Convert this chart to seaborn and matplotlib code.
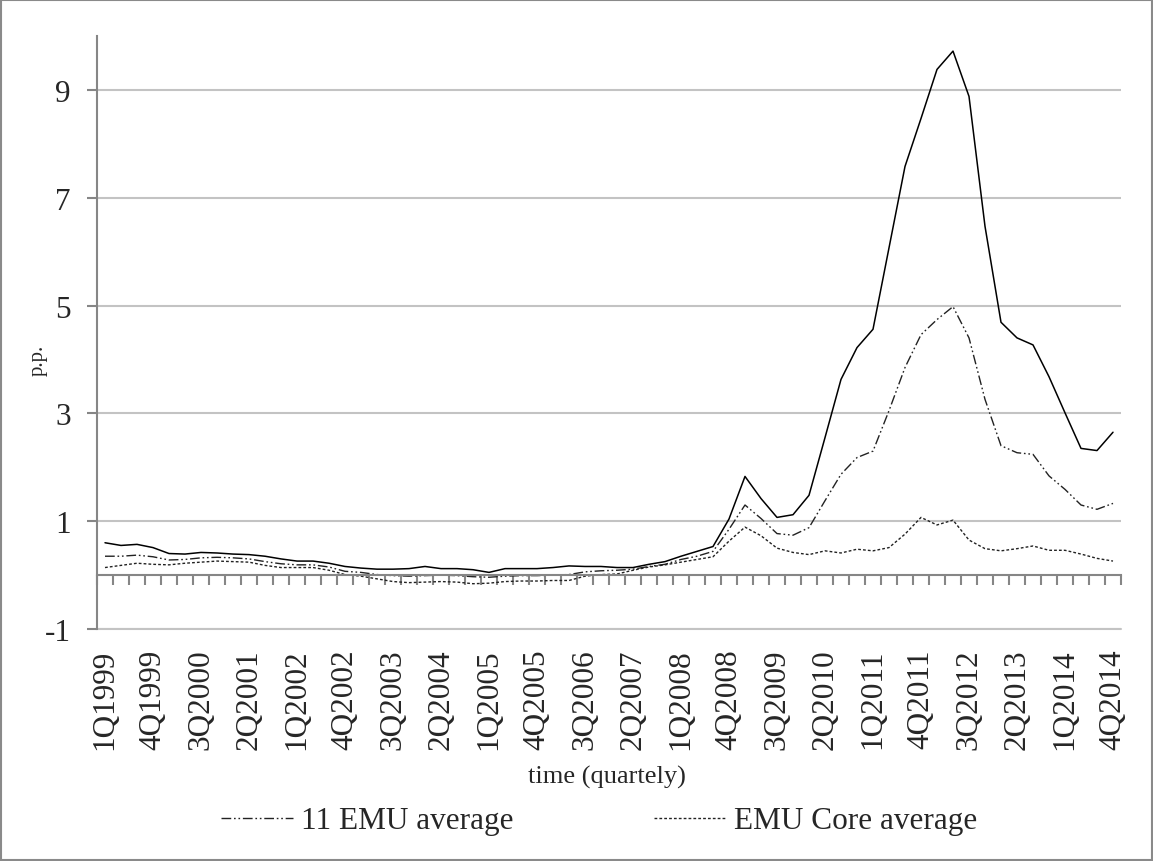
import numpy as np
import pandas as pd
import seaborn as sns
import matplotlib.pyplot as plt
from matplotlib.patches import Rectangle

# spreads in p.p., quarterly 1Q1999 - 4Q2014 (64 quarters)
periphery = [0.60, 0.55, 0.57, 0.51, 0.40, 0.39, 0.42, 0.41, 0.39, 0.38, 0.35, 0.30,
             0.26, 0.26, 0.22, 0.16, 0.13, 0.11, 0.11, 0.12, 0.16, 0.12, 0.12, 0.10,
             0.05, 0.12, 0.12, 0.12, 0.14, 0.17, 0.16, 0.16, 0.14, 0.14, 0.20, 0.25,
             0.35, 0.44, 0.53, 1.04, 1.83, 1.42, 1.07, 1.12, 1.48, 2.55, 3.63, 4.22,
             4.56, 6.07, 7.58, 8.47, 9.38, 9.72, 8.88, 6.47, 4.69, 4.40, 4.27, 3.68,
             3.01, 2.35, 2.31, 2.65]
emu11 = [0.35, 0.35, 0.37, 0.34, 0.28, 0.29, 0.32, 0.33, 0.32, 0.30, 0.25, 0.21,
         0.19, 0.19, 0.15, 0.07, 0.05, 0.01, -0.01, -0.02, -0.01, 0.00, -0.01, -0.03,
         -0.04, -0.02, -0.01, -0.01, 0.00, 0.01, 0.06, 0.08, 0.09, 0.11, 0.16, 0.20,
         0.29, 0.35, 0.44, 0.85, 1.30, 1.05, 0.77, 0.74, 0.88, 1.38, 1.87, 2.18,
         2.30, 3.05, 3.85, 4.46, 4.74, 4.98, 4.40, 3.26, 2.40, 2.27, 2.24, 1.84,
         1.59, 1.30, 1.22, 1.33]
core = [0.14, 0.18, 0.22, 0.20, 0.19, 0.22, 0.24, 0.26, 0.25, 0.24, 0.18, 0.14,
        0.14, 0.14, 0.09, 0.01, -0.02, -0.07, -0.12, -0.14, -0.13, -0.12, -0.13, -0.16,
        -0.15, -0.12, -0.11, -0.11, -0.10, -0.10, -0.02, 0.01, 0.02, 0.09, 0.15, 0.19,
        0.24, 0.29, 0.34, 0.63, 0.89, 0.73, 0.50, 0.42, 0.38, 0.45, 0.41, 0.48,
        0.45, 0.51, 0.76, 1.07, 0.93, 1.02, 0.65, 0.49, 0.45, 0.49, 0.54, 0.46,
        0.46, 0.39, 0.31, 0.26]
tick_labels = ['1Q1999', '4Q1999', '3Q2000', '2Q2001', '1Q2002', '4Q2002', '3Q2003',
               '2Q2004', '1Q2005', '4Q2005', '3Q2006', '2Q2007', '1Q2008', '4Q2008',
               '3Q2009', '2Q2010', '1Q2011', '4Q2011', '3Q2012', '2Q2013', '1Q2014',
               '4Q2014']
y_ticks = [-1, 1, 3, 5, 7, 9]

df = pd.DataFrame({'q': np.arange(len(periphery)), 'periphery': periphery,
                   'emu11': emu11, 'core': core})

sns.set_style('white')
plt.rcParams['font.family'] = ['Liberation Serif', 'DejaVu Serif']
plt.rcParams['axes.unicode_minus'] = False

axis_grey = '#868686'
grid_grey = '#c3c3c3'

fig = plt.figure(figsize=(11.53, 8.62), dpi=100)
ax = fig.add_axes([97 / 1153, 1 - 630 / 862, 1024 / 1153, 593 / 862])

sns.lineplot(data=df, x='q', y='periphery', ax=ax, color='black', lw=1.1)
sns.lineplot(data=df, x='q', y='emu11', ax=ax, color='#222222', lw=1.0,
             linestyle=(0, (7, 2, 1.2, 2, 1.2, 2)), label='11 EMU average')
sns.lineplot(data=df, x='q', y='core', ax=ax, color='#222222', lw=1.0,
             linestyle=(0, (2, 1.5)), label='EMU Core average')

ax.set_xlim(-0.5, len(periphery) - 0.5)
ax.set_ylim(-1, 10)
ax.set_yticks(y_ticks)
ax.grid(axis='y', color=grid_grey, lw=1.5)
ax.axhline(-1, color=grid_grey, lw=1.5, clip_on=False, zorder=0.5)
ax.set_axisbelow(True)

for s in ['top', 'right']:
    ax.spines[s].set_visible(False)
ax.spines['left'].set_color(axis_grey)
ax.spines['left'].set_linewidth(1.5)
ax.spines['bottom'].set_position(('data', 0))
ax.spines['bottom'].set_color(axis_grey)
ax.spines['bottom'].set_linewidth(1.5)

# category boundary ticks on the zero line
ax.set_xticks(np.arange(-0.5, len(periphery), 1))
ax.tick_params(axis='x', bottom=True, direction='out', length=7, width=1.5,
               color=axis_grey, labelbottom=False)
ax.tick_params(axis='y', left=True, direction='out', length=7, width=1.5,
               color=axis_grey, labelsize=22.5, pad=12)
ax.set_xlabel('')
ax.set_ylabel('')

# quarter labels along the bottom
sec = ax.secondary_xaxis('bottom')
sec.set_xticks(np.arange(0, len(periphery), 3), labels=tick_labels)
sec.tick_params(length=0, labelsize=22.5, pad=14, labelrotation=90)
sec.spines['bottom'].set_visible(False)

fig.text(607 / 1153, 1 - 777 / 862, 'time (quartely)', ha='center', va='center',
         fontsize=19)
fig.text(38 / 1153, 1 - 360 / 862, 'p.p.', ha='center', va='center',
         rotation=90, fontsize=15)

ax.legend(loc='center', bbox_to_anchor=(599 / 1153, 1 - 822 / 862),
          bbox_transform=fig.transFigure, ncol=2, frameon=False, fontsize=22.5,
          handlelength=2.3, handletextpad=0.25, columnspacing=4.5)

fig.patches.append(Rectangle((0.001, 0.001), 0.998, 0.998, transform=fig.transFigure,
                             fill=False, edgecolor='#8a8a8a', lw=1.5))

fig.savefig('out.png', dpi=100)
